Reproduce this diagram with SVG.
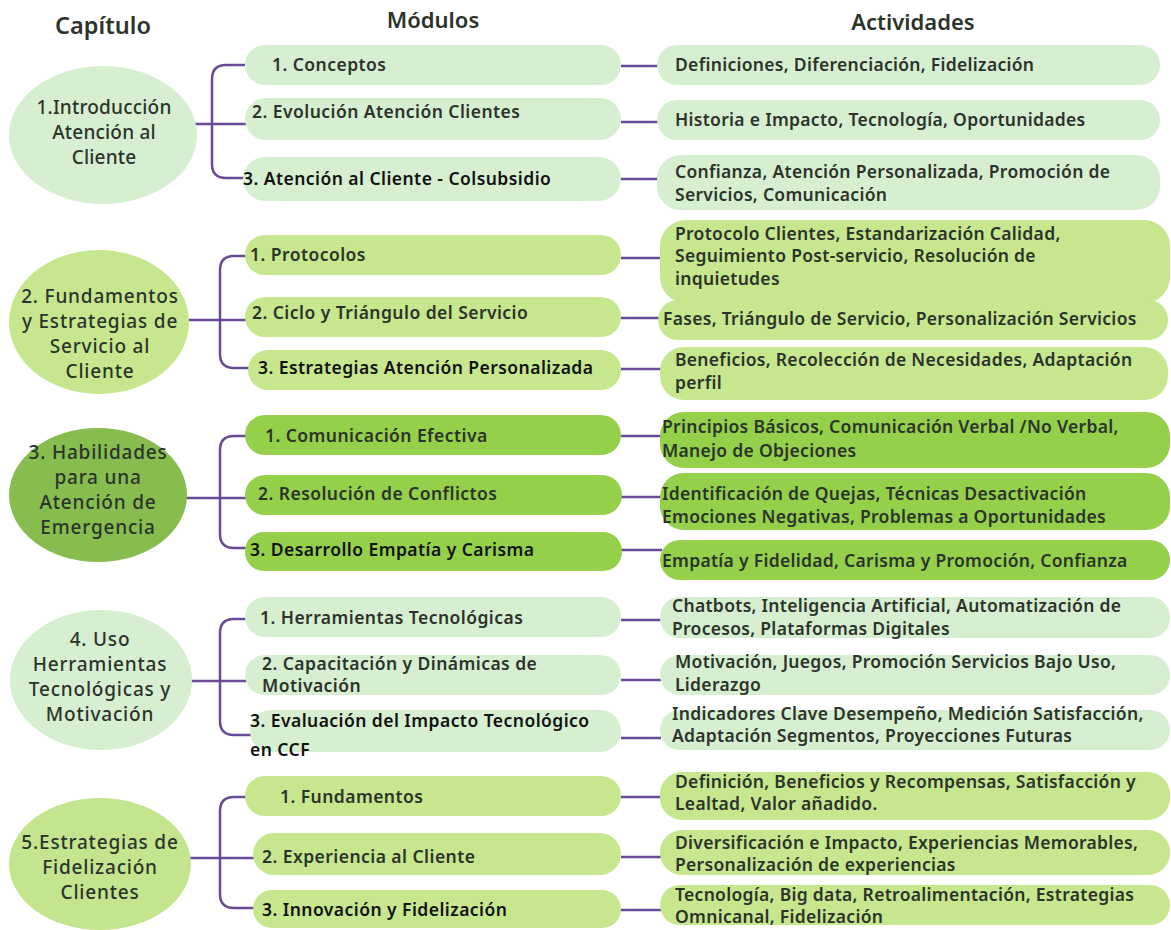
<svg xmlns="http://www.w3.org/2000/svg" width="1171" height="930" viewBox="0 0 1171 930">
  <style>
    text { font-family: "Noto Sans", "Open Sans", sans-serif; fill: #2c332b; }
    .hdr { font-size: 22px; font-weight: 600; text-anchor: middle; }
    .cap { font-size: 19px; font-weight: 500; letter-spacing: 0.8px; text-anchor: middle; }
    .cap1 { letter-spacing: 0.2px; }
    .mod { font-size: 17.5px; font-weight: 600; letter-spacing: 0.45px; }
    .modk { font-size: 17.5px; fill: #111; font-weight: 600; letter-spacing: 0.45px; }
    .act { font-size: 17.5px; font-weight: 600; letter-spacing: 0.3px; }
    .pale { fill: #d7efd1; }
    .lime { fill: #c6e78d; }
    .bright { fill: #94d04a; }
    .circ3 { fill: #86bd4e; }
    .circ5 { fill: #c3e58e; }
    .conn path, .conn line { stroke: #6a4a98; stroke-width: 2.5; fill: none; }
  </style>

  <!-- column headers -->
  <text class="hdr" x="103" y="34" style="font-size:23.5px">Capítulo</text>
  <text class="hdr" x="433" y="28">Módulos</text>
  <text class="hdr" x="913" y="30">Actividades</text>

  <!-- connectors -->
  <g class="conn" id="connectors">
    <!-- chapter 1 -->
    <path d="M245 65 H226 Q212 65 212 79 V164 Q212 178 226 178 H245"/>
    <line x1="186" y1="124" x2="246" y2="124"/>
    <line x1="621" y1="66" x2="658" y2="66"/>
    <line x1="621" y1="122" x2="658" y2="122"/>
    <line x1="621" y1="179" x2="658" y2="179"/>
    <!-- chapter 2 -->
    <path d="M247 256 H234 Q220 256 220 270 V354 Q220 368 234 368 H250"/>
    <line x1="183" y1="320" x2="248" y2="320"/>
    <line x1="621" y1="258" x2="661" y2="258"/>
    <line x1="621" y1="318" x2="660" y2="318"/>
    <line x1="621" y1="369" x2="661" y2="369"/>
    <!-- chapter 3 -->
    <path d="M246 436 H234 Q220 436 220 450 V534 Q220 548 234 548 H246"/>
    <line x1="185" y1="498" x2="246" y2="498"/>
    <line x1="621" y1="436" x2="662" y2="436"/>
    <line x1="621" y1="497" x2="662" y2="497"/>
    <line x1="621" y1="550" x2="662" y2="550"/>
    <!-- chapter 4 -->
    <path d="M247 619 H234 Q220 619 220 633 V721 Q220 735 234 735 H252"/>
    <line x1="180" y1="681" x2="247" y2="681"/>
    <line x1="621" y1="620" x2="661" y2="620"/>
    <line x1="621" y1="680" x2="661" y2="680"/>
    <line x1="621" y1="738" x2="661" y2="738"/>
    <!-- chapter 5 -->
    <path d="M247 797 H234 Q220 797 220 811 V894 Q220 908 234 908 H254"/>
    <line x1="185" y1="858" x2="254" y2="858"/>
    <line x1="621" y1="797" x2="661" y2="797"/>
    <line x1="621" y1="857" x2="661" y2="857"/>
    <line x1="621" y1="910" x2="661" y2="910"/>
  </g>

  <!-- chapter 1 -->
  <g id="cap1">
    <ellipse class="pale" cx="103" cy="135" rx="94" ry="69"/>
    <text class="cap cap1" x="104" y="114">1.Introducción</text>
    <text class="cap cap1" x="104" y="139">Atención al</text>
    <text class="cap cap1" x="104" y="164">Cliente</text>
  </g>
  <g id="mod1-1"><rect class="pale" x="245" y="45" width="376" height="40" rx="20"/><text class="mod" x="272" y="71">1. Conceptos</text></g>
  <g id="mod1-2"><rect class="pale" x="245" y="98" width="376" height="42" rx="21"/><text class="mod" x="252" y="118">2. Evolución Atención Clientes</text></g>
  <g id="mod1-3"><rect class="pale" x="243" y="157" width="378" height="44" rx="22"/><text class="modk" x="243" y="185">3. Atención al Cliente - Colsubsidio</text></g>
  <g id="act1-1"><rect class="pale" x="657" y="45" width="503" height="40" rx="20"/><text class="act" x="675" y="71">Definiciones, Diferenciación, Fidelización</text></g>
  <g id="act1-2"><rect class="pale" x="657" y="100" width="503" height="40" rx="20"/><text class="act" x="675" y="126">Historia e Impacto, Tecnología, Oportunidades</text></g>
  <g id="act1-3"><rect class="pale" x="657" y="155" width="503" height="55" rx="24"/><text class="act" x="675" y="178">Confianza, Atención Personalizada, Promoción de</text><text class="act" x="675" y="201">Servicios, Comunicación</text></g>

  <!-- chapter 2 -->
  <g id="cap2">
    <ellipse class="lime" cx="99" cy="322" rx="90" ry="72"/>
    <text class="cap" x="100" y="303">2. Fundamentos</text>
    <text class="cap" x="100" y="328">y Estrategias de</text>
    <text class="cap" x="100" y="353">Servicio al</text>
    <text class="cap" x="100" y="378">Cliente</text>
  </g>
  <g id="mod2-1"><rect class="lime" x="245" y="235" width="376" height="40" rx="20"/><text class="mod" x="250" y="261">1. Protocolos</text></g>
  <g id="mod2-2"><rect class="lime" x="245" y="297" width="376" height="40" rx="20"/><text class="mod" x="252" y="319">2. Ciclo y Triángulo del Servicio</text></g>
  <g id="mod2-3"><rect class="lime" x="248" y="350" width="373" height="40" rx="20"/><text class="modk" x="258" y="374">3. Estrategias Atención Personalizada</text></g>
  <g id="act2-1"><rect class="lime" x="660" y="220" width="510" height="83" rx="26"/><text class="act" x="675" y="240">Protocolo Clientes, Estandarización Calidad,</text><text class="act" x="675" y="262">Seguimiento Post-servicio, Resolución de</text><text class="act" x="675" y="285">inquietudes</text></g>
  <g id="act2-2"><rect class="lime" x="658" y="300" width="510" height="40" rx="20"/><text class="act" x="663" y="325">Fases, Triángulo de Servicio, Personalización Servicios</text></g>
  <g id="act2-3"><rect class="lime" x="660" y="347" width="508" height="53" rx="24"/><text class="act" x="675" y="366">Beneficios, Recolección de Necesidades, Adaptación</text><text class="act" x="675" y="389">perfil</text></g>

  <!-- chapter 3 -->
  <g id="cap3">
    <ellipse class="circ3" cx="98" cy="495" rx="89" ry="67"/>
    <text class="cap" x="98" y="459">3. Habilidades</text>
    <text class="cap" x="98" y="484">para una</text>
    <text class="cap" x="98" y="509">Atención de</text>
    <text class="cap" x="98" y="534">Emergencia</text>
  </g>
  <g id="mod3-1"><rect class="bright" x="245" y="415" width="376" height="40" rx="20"/><text class="mod" x="265" y="442">1. Comunicación Efectiva</text></g>
  <g id="mod3-2"><rect class="bright" x="245" y="475" width="377" height="40" rx="20"/><text class="mod" x="258" y="500">2. Resolución de Conflictos</text></g>
  <g id="mod3-3"><rect class="bright" x="245" y="532" width="377" height="39" rx="19"/><text class="modk" x="250" y="556">3. Desarrollo Empatía y Carisma</text></g>
  <g id="act3-1"><rect class="bright" x="660" y="412" width="510" height="56" rx="24"/><text class="act" x="662" y="433">Principios Básicos, Comunicación Verbal /No Verbal,</text><text class="act" x="662" y="457">Manejo de Objeciones</text></g>
  <g id="act3-2"><rect class="bright" x="660" y="473" width="510" height="57" rx="24"/><text class="act" x="662" y="500">Identificación de Quejas, Técnicas Desactivación</text><text class="act" x="662" y="523">Emociones Negativas, Problemas a Oportunidades</text></g>
  <g id="act3-3"><rect class="bright" x="660" y="540" width="510" height="40" rx="20"/><text class="act" x="662" y="567">Empatía y Fidelidad, Carisma y Promoción, Confianza</text></g>

  <!-- chapter 4 -->
  <g id="cap4">
    <ellipse class="pale" cx="101" cy="680" rx="91" ry="70"/>
    <text class="cap" x="100" y="646">4. Uso</text>
    <text class="cap" x="100" y="671">Herramientas</text>
    <text class="cap" x="100" y="696">Tecnológicas y</text>
    <text class="cap" x="100" y="721">Motivación</text>
  </g>
  <g id="mod4-1"><rect class="pale" x="245" y="597" width="376" height="40" rx="20"/><text class="mod" x="260" y="624">1. Herramientas Tecnológicas</text></g>
  <g id="mod4-2"><rect class="pale" x="245" y="655" width="376" height="40" rx="20"/><text class="mod" x="262" y="670">2. Capacitación y Dinámicas de</text><text class="mod" x="262" y="692">Motivación</text></g>
  <g id="mod4-3"><rect class="pale" x="250" y="710" width="371" height="42" rx="21"/><text class="modk" x="250" y="727">3. Evaluación del Impacto Tecnológico</text><text class="modk" x="250" y="756">en CCF</text></g>
  <g id="act4-1"><rect class="pale" x="660" y="597" width="510" height="41" rx="20"/><text class="act" x="672" y="612">Chatbots, Inteligencia Artificial,  Automatización de</text><text class="act" x="672" y="635">Procesos, Plataformas Digitales</text></g>
  <g id="act4-2"><rect class="pale" x="660" y="655" width="510" height="40" rx="20"/><text class="act" x="675" y="668">Motivación, Juegos, Promoción Servicios Bajo Uso,</text><text class="act" x="675" y="691">Liderazgo</text></g>
  <g id="act4-3"><rect class="pale" x="660" y="710" width="510" height="40" rx="20"/><text class="act" x="672" y="720">Indicadores Clave Desempeño, Medición Satisfacción,</text><text class="act" x="672" y="742">Adaptación Segmentos,  Proyecciones Futuras</text></g>

  <!-- chapter 5 -->
  <g id="cap5">
    <ellipse class="circ5" cx="100" cy="864" rx="91" ry="66"/>
    <text class="cap" x="100" y="849">5.Estrategias de</text>
    <text class="cap" x="100" y="874">Fidelización</text>
    <text class="cap" x="100" y="899">Clientes</text>
  </g>
  <g id="mod5-1"><rect class="lime" x="245" y="776" width="376" height="40" rx="20"/><text class="mod" x="280" y="803">1. Fundamentos</text></g>
  <g id="mod5-2"><rect class="lime" x="253" y="833" width="368" height="42" rx="21"/><text class="mod" x="262" y="863">2. Experiencia al Cliente</text></g>
  <g id="mod5-3"><rect class="lime" x="253" y="890" width="368" height="38" rx="19"/><text class="modk" x="262" y="916">3. Innovación y Fidelización</text></g>
  <g id="act5-1"><rect class="lime" x="660" y="772" width="510" height="48" rx="22"/><text class="act" x="675" y="788">Definición, Beneficios y Recompensas, Satisfacción y</text><text class="act" x="675" y="810">Lealtad, Valor añadido.</text></g>
  <g id="act5-2"><rect class="lime" x="660" y="830" width="510" height="45" rx="22"/><text class="act" x="675" y="849">Diversificación e Impacto, Experiencias Memorables,</text><text class="act" x="675" y="871">Personalización de experiencias</text></g>
  <g id="act5-3"><rect class="lime" x="660" y="885" width="510" height="40" rx="20"/><text class="act" x="675" y="901">Tecnología, Big data, Retroalimentación, Estrategias</text><text class="act" x="675" y="923">Omnicanal, Fidelización</text></g>
</svg>
